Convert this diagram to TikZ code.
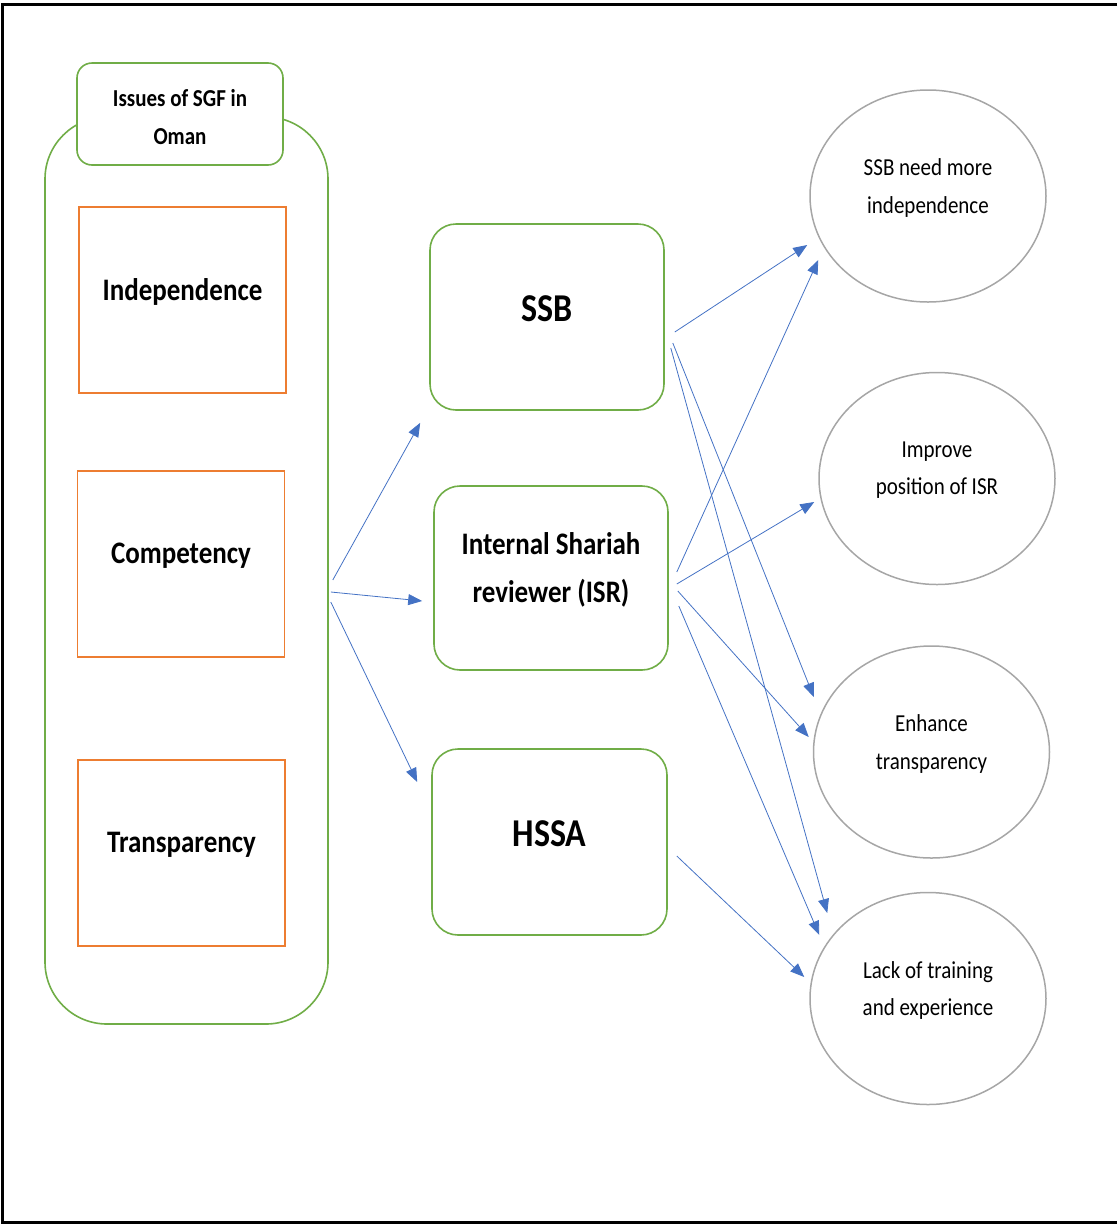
\documentclass[tikz,border=0pt]{standalone}
\usepackage{fontspec}
\setmainfont{Carlito}
\usetikzlibrary{arrows.meta,shapes.geometric}
\definecolor{grn}{HTML}{70AD47}
\definecolor{orng}{HTML}{ED7D31}
\definecolor{gry}{HTML}{A6A6A6}
\definecolor{blu}{HTML}{4472C4}
\begin{document}
\begin{tikzpicture}[x=1pt,y=-1pt,
    txt/.style={yscale=1.16,transform shape,align=center},
    issue/.style={draw=orng,line width=1.5pt,minimum width=207pt,minimum height=186pt,
      label={[yshift=8pt,txt,font=\fontsize{27}{33}\selectfont\bfseries]center:{#1}}},
    actor/.style 2 args={draw=grn,line width=1.6pt,rounded corners=26pt,minimum width=234pt,minimum height=186pt,
      label={[yshift=8pt,txt,font=\fontsize{#2}{41.4}\selectfont\bfseries]center:{#1}}},
    outcome/.style={ellipse,draw=gry,line width=1.5pt,minimum width=236pt,minimum height=212pt,inner sep=0pt,
      label={[yshift=8pt,txt,font=\fontsize{21}{32}\selectfont]center:{#1}}},
    link/.style={draw=blu,line width=0.8pt,-{Triangle[length=14pt,width=11pt]}}]
  \useasboundingbox (0,0) rectangle (1117,1224);
  \draw[line width=3pt] (1117,4) -- (2,4) -- (2,1222.5) -- (1117,1222.5);

  % issues column
  \node[draw=grn,line width=1.6pt,rounded corners=62pt,minimum width=283pt,minimum height=907pt] (group) at (186.5,570.5) {};
  \node[draw=grn,fill=white,line width=1.6pt,rounded corners=15pt,minimum width=206pt,minimum height=102pt,
    label={[yshift=-3pt,txt,font=\fontsize{21}{32}\selectfont\bfseries]center:{Issues of SGF in\\Oman}}] (title) at (180,114) {};
  \node[issue=Independence] (indep) at (182.5,300) {};
  \node[issue=Competency] (comp) at (181,564) {};
  \node[issue=Transparency] (transp) at (181.5,853) {};

  % parties
  \node[actor={SSB}{34}] (ssb) at (547,317) {};
  \node[actor={Internal Shariah\\reviewer (ISR)}{27},minimum height=184pt] (isr) at (551,578) {};
  \node[actor={HSSA}{34},minimum width=235pt] (hssa) at (549.5,842) {};

  % findings
  \node[outcome={SSB need more\\independence}] (need) at (928,196) {};
  \node[outcome={Improve\\position of ISR}] (improve) at (937,478.5) {};
  \node[outcome={Enhance\\transparency}] (enhance) at (931.5,752) {};
  \node[outcome={Lack of training\\and experience}] (lack) at (928,998.5) {};

  \draw[link] ([shift={(4,9.5)}]group.east) -- ([shift={(-9,12)}]ssb.south west);
  \draw[link] ([shift={(2,21.5)}]group.east) -- ([shift={(-11,23)}]isr.west);
  \draw[link] ([shift={(2,31.5)}]group.east) -- ([shift={(-14,-60)}]hssa.west);

  \draw[link] ([shift={(10,15)}]ssb.east) -- ([shift={(-2,49)}]need.west);
  \draw[link] ([shift={(8,26)}]ssb.east) -- ([shift={(1,-55)}]enhance.west);
  \draw[link] ([shift={(6,31)}]ssb.east) -- ([shift={(18,-85.5)}]lack.west);

  \draw[link] ([shift={(8,-6)}]isr.east) -- ([shift={(9,64)}]need.west);
  \draw[link] ([shift={(8,6)}]isr.east) -- ([shift={(-4,23.5)}]improve.west);
  \draw[link] ([shift={(9,13)}]isr.east) -- ([shift={(-4,-15)}]enhance.west);
  \draw[link] ([shift={(10,28)}]isr.east) -- ([shift={(10,-63.5)}]lack.west);

  \draw[link] ([shift={(9,14)}]hssa.east) -- ([shift={(-5,-21.5)}]lack.west);
\end{tikzpicture}
\end{document}
